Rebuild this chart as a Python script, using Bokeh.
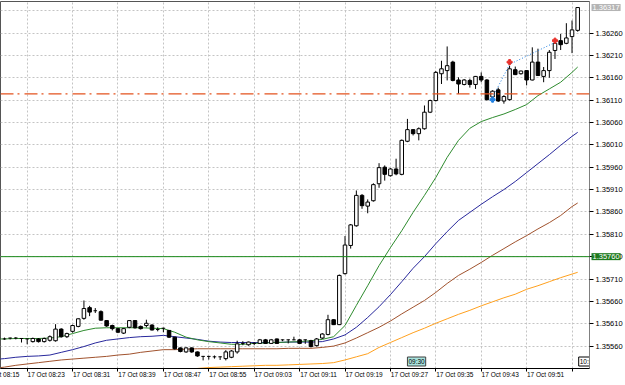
import numpy as np
from bokeh.plotting import figure
from bokeh.models import (ColumnDataSource, Range1d, FixedTicker, PrintfTickFormatter,
                          Span, Label, Grid, LinearAxis)
from bokeh.core.properties import value
from bokeh.embed import file_html
from bokeh.resources import INLINE

# ---------------- data ----------------
# bar position = minutes after 17 Oct 08:15 (M1 chart)
bar_minutes = list(range(3, 106))

opens = [1.35577, 1.35577, 1.35577, 1.35578, 1.35577, 1.35576, 1.35570, 1.35576, 1.35570, 1.35573,
         1.35572, 1.35598, 1.35581, 1.35593, 1.35604, 1.35622, 1.35646, 1.35640, 1.35637, 1.35617,
         1.35606, 1.35599, 1.35589, 1.35602, 1.35617, 1.35604, 1.35606, 1.35607, 1.35597, 1.35600,
         1.35595, 1.35580, 1.35556, 1.35547, 1.35556, 1.35547, 1.35537, 1.35537, 1.35536, 1.35536,
         1.35532, 1.35535, 1.35547, 1.35566, 1.35563, 1.35566, 1.35566, 1.35574, 1.35566, 1.35576,
         1.35574, 1.35574, 1.35574, 1.35574, 1.35574, 1.35572, 1.35561, 1.35578, 1.35586, 1.35619,
         1.35608, 1.35722, 1.35785, 1.35829, 1.35897, 1.35873, 1.35885, 1.35923, 1.35960, 1.35941,
         1.35956, 1.35944, 1.36018, 1.36044, 1.36035, 1.36046, 1.36083, 1.36109, 1.36169, 1.36176,
         1.36195, 1.36155, 1.36145, 1.36154, 1.36145, 1.36163, 1.36155, 1.36117, 1.36133, 1.36108,
         1.36111, 1.36178, 1.36169, 1.36176, 1.36155, 1.36195, 1.36163, 1.36176, 1.36221, 1.36243,
         1.36237, 1.36252, 1.36266]
highs = [1.35579, 1.35579, 1.35579, 1.35580, 1.35578, 1.35577, 1.35579, 1.35578, 1.35579, 1.35584,
         1.35609, 1.35600, 1.35590, 1.35608, 1.35622, 1.35662, 1.35650, 1.35645, 1.35640, 1.35618,
         1.35608, 1.35600, 1.35600, 1.35618, 1.35618, 1.35606, 1.35619, 1.35609, 1.35602, 1.35601,
         1.35596, 1.35581, 1.35557, 1.35557, 1.35557, 1.35548, 1.35538, 1.35538, 1.35539, 1.35537,
         1.35551, 1.35551, 1.35572, 1.35571, 1.35570, 1.35569, 1.35576, 1.35576, 1.35576, 1.35577,
         1.35575, 1.35575, 1.35581, 1.35576, 1.35575, 1.35574, 1.35578, 1.35589, 1.35630, 1.35620,
         1.35720, 1.35806, 1.35833, 1.35908, 1.35900, 1.35888, 1.35924, 1.35969, 1.35964, 1.35958,
         1.35979, 1.36022, 1.36068, 1.36045, 1.36049, 1.36098, 1.36111, 1.36175, 1.36198, 1.36230,
         1.36198, 1.36161, 1.36157, 1.36158, 1.36164, 1.36172, 1.36157, 1.36132, 1.36138, 1.36121,
         1.36187, 1.36185, 1.36176, 1.36177, 1.36228, 1.36225, 1.36184, 1.36222, 1.36240, 1.36258,
         1.36282, 1.36288, 1.36317]
lows = [1.35575, 1.35574, 1.35575, 1.35575, 1.35568, 1.35564, 1.35568, 1.35568, 1.35568, 1.35570,
        1.35570, 1.35579, 1.35578, 1.35590, 1.35602, 1.35619, 1.35627, 1.35634, 1.35617, 1.35603,
        1.35595, 1.35589, 1.35587, 1.35600, 1.35599, 1.35597, 1.35602, 1.35595, 1.35593, 1.35591,
        1.35578, 1.35552, 1.35546, 1.35545, 1.35545, 1.35536, 1.35528, 1.35530, 1.35532, 1.35529,
        1.35528, 1.35533, 1.35543, 1.35562, 1.35561, 1.35562, 1.35565, 1.35565, 1.35565, 1.35565,
        1.35571, 1.35566, 1.35573, 1.35565, 1.35565, 1.35557, 1.35559, 1.35576, 1.35584, 1.35607,
        1.35607, 1.35720, 1.35778, 1.35827, 1.35867, 1.35857, 1.35883, 1.35914, 1.35930, 1.35939,
        1.35942, 1.35942, 1.36016, 1.36031, 1.36020, 1.36044, 1.36081, 1.36107, 1.36146, 1.36154,
        1.36152, 1.36124, 1.36143, 1.36138, 1.36135, 1.36150, 1.36109, 1.36115, 1.36106, 1.36102,
        1.36109, 1.36166, 1.36167, 1.36143, 1.36154, 1.36164, 1.36150, 1.36160, 1.36202, 1.36222,
        1.36235, 1.36215, 1.36263]
closes = [1.35578, 1.35576, 1.35578, 1.35578, 1.35577, 1.35576, 1.35577, 1.35570, 1.35577, 1.35581,
          1.35598, 1.35581, 1.35588, 1.35606, 1.35621, 1.35644, 1.35636, 1.35639, 1.35618, 1.35605,
          1.35599, 1.35591, 1.35599, 1.35617, 1.35601, 1.35599, 1.35611, 1.35596, 1.35597, 1.35600,
          1.35580, 1.35554, 1.35548, 1.35556, 1.35547, 1.35538, 1.35537, 1.35537, 1.35536, 1.35536,
          1.35547, 1.35549, 1.35565, 1.35566, 1.35569, 1.35566, 1.35574, 1.35566, 1.35574, 1.35566,
          1.35574, 1.35574, 1.35574, 1.35566, 1.35574, 1.35559, 1.35576, 1.35587, 1.35619, 1.35608,
          1.35718, 1.35786, 1.35831, 1.35897, 1.35874, 1.35882, 1.35921, 1.35959, 1.35944, 1.35956,
          1.35945, 1.36020, 1.36044, 1.36035, 1.36046, 1.36083, 1.36109, 1.36172, 1.36180, 1.36187,
          1.36154, 1.36146, 1.36155, 1.36145, 1.36163, 1.36155, 1.36111, 1.36130, 1.36108, 1.36118,
          1.36180, 1.36167, 1.36175, 1.36155, 1.36195, 1.36165, 1.36176, 1.36217, 1.36237, 1.36234,
          1.36249, 1.36267, 1.36317]

ma_bars = list(range(2, 105, 2)) + [105]
ma_green = [1.35576, 1.35576, 1.35577, 1.35577, 1.35577, 1.35578, 1.35581, 1.35588, 1.35595, 1.35600,
            1.35601, 1.35601, 1.35601, 1.35601, 1.35600, 1.35599, 1.35591, 1.35580, 1.35574, 1.35570,
            1.35567, 1.35564, 1.35564, 1.35566, 1.35567, 1.35568, 1.35569, 1.35570, 1.35572, 1.35575,
            1.35581, 1.35606, 1.35651, 1.35695, 1.35740, 1.35780, 1.35818, 1.35859, 1.35897, 1.35937,
            1.35982, 1.36020, 1.36047, 1.36062, 1.36071, 1.36079, 1.36089, 1.36100, 1.36120, 1.36135,
            1.36150, 1.36172, 1.36184]
ma_blue = [1.35530, 1.35532, 1.35535, 1.35537, 1.35538, 1.35540, 1.35546, 1.35552, 1.35559, 1.35567,
           1.35573, 1.35576, 1.35579, 1.35581, 1.35582, 1.35584, 1.35581, 1.35578, 1.35575, 1.35571,
           1.35569, 1.35568, 1.35568, 1.35568, 1.35568, 1.35568, 1.35569, 1.35569, 1.35569, 1.35570,
           1.35576, 1.35585, 1.35602, 1.35624, 1.35648, 1.35675, 1.35704, 1.35734, 1.35760, 1.35789,
           1.35816, 1.35841, 1.35859, 1.35877, 1.35894, 1.35910, 1.35928, 1.35948, 1.35968, 1.35988,
           1.36009, 1.36029, 1.36038]
ma_brown = [1.35510, 1.35513, 1.35517, 1.35520, 1.35523, 1.35526, 1.35529, 1.35531, 1.35533, 1.35535,
            1.35537, 1.35540, 1.35542, 1.35546, 1.35549, 1.35552, 1.35552, 1.35553, 1.35554, 1.35554,
            1.35554, 1.35554, 1.35554, 1.35554, 1.35554, 1.35554, 1.35555, 1.35555, 1.35555, 1.35557,
            1.35560, 1.35567, 1.35578, 1.35590, 1.35602, 1.35616, 1.35632, 1.35647, 1.35662, 1.35680,
            1.35700, 1.35718, 1.35732, 1.35747, 1.35763, 1.35778, 1.35793, 1.35807, 1.35822, 1.35836,
            1.35852, 1.35872, 1.35880]
ma_orange_bars = list(range(36, 105, 2)) + [105]
ma_orange = [1.35509, 1.35510, 1.35512, 1.35513, 1.35514, 1.35515, 1.35516, 1.35517, 1.35517, 1.35518,
             1.35519, 1.35520, 1.35521, 1.35523, 1.35529, 1.35536, 1.35543, 1.35557, 1.35568, 1.35579,
             1.35590, 1.35600, 1.35611, 1.35621, 1.35631, 1.35640, 1.35650, 1.35659, 1.35668, 1.35676,
             1.35687, 1.35695, 1.35704, 1.35713, 1.35721, 1.35725]

zigzag_bars = [90, 93, 101]
zigzag_prices = [1.36116, 1.36190, 1.36239]
signal_bars = [90, 93, 101]
signal_prices = [1.36111, 1.36195, 1.36243]
signal_colors = ["#1f7fe0", "#e8302a", "#e8302a"]

level_price = 1.35760
dashdot_price = 1.36124
last_price = 1.36317

price_ticks = [1.35560, 1.35610, 1.35660, 1.35710, 1.35760, 1.35810, 1.35860, 1.35910,
               1.35960, 1.36010, 1.36060, 1.36110, 1.36160, 1.36210, 1.36260]
grid_prices = price_ticks + [1.36310]
time_tick_bars = [0, 8, 16, 24, 32, 40, 48, 56, 64, 72, 80, 88, 96, 104]
time_tick_labels = ["17 Oct 08:15", "17 Oct 08:23", "17 Oct 08:31", "17 Oct 08:39", "17 Oct 08:47",
                    "17 Oct 08:55", "17 Oct 09:03", "17 Oct 09:11", "17 Oct 09:19", "17 Oct 09:27",
                    "17 Oct 09:35", "17 Oct 09:43", "17 Oct 09:51", "17 Oct 09:59"]
session_bar, session_text = 75, "09:30"
end_bar, end_text = 105, "10:00"

# ---------------- figure ----------------
FONT = "Liberation Sans"
X0, X1 = 3.3, 107.08            # visible bar window
BAR_PX = 589.0 / (X1 - X0)       # pixels per bar
LABEL_SHIFT = 19.0 / BAR_PX      # centre of a left-aligned time label, in bars
HIDDEN_LEFT = 70                 # side strip holding the price-box labels, scrolled out of view

p = figure(width=625 + HIDDEN_LEFT, height=385, output_backend="svg", toolbar_location=None,
           x_range=Range1d(X0, X1), y_range=Range1d(1.355099, 1.363305),
           y_axis_location="right", min_border_left=HIDDEN_LEFT, min_border_top=1,
           min_border_right=36, min_border_bottom=17,
           background_fill_color="white", border_fill_color="white",
           outline_line_color="#555555",
           styles={"margin-left": f"-{HIDDEN_LEFT}px"})
p.extra_x_ranges = {"tlabels": Range1d(X0 - LABEL_SHIFT, X1 - LABEL_SHIFT)}

p.xgrid.visible = False
p.ygrid.visible = False
vgrid = Grid(dimension=0, ticker=FixedTicker(ticks=time_tick_bars), grid_line_color="#c4c4c4",
             grid_line_dash="2 2", grid_line_width=1)
hgrid = Grid(dimension=1, ticker=FixedTicker(ticks=grid_prices), grid_line_color="#c4c4c4",
             grid_line_dash="2 2", grid_line_width=1)
p.add_layout(vgrid)
p.add_layout(hgrid)

yax = p.yaxis[0]
yax.ticker = FixedTicker(ticks=price_ticks)
yax.formatter = PrintfTickFormatter(format="%.5f")
yax.major_tick_out = 4
yax.major_tick_in = 0
yax.minor_tick_line_color = None
yax.major_label_standoff = 2
yax.major_label_text_font = FONT
yax.major_label_text_font_size = "7.5px"
yax.major_label_text_color = "#000000"
yax.axis_line_color = "#808080"
yax.major_tick_line_color = "#000000"

# bottom axis 1: tick marks only
xax = p.xaxis[0]
xax.ticker = FixedTicker(ticks=time_tick_bars)
xax.major_tick_out = 3
xax.major_tick_in = 0
xax.minor_tick_line_color = None
xax.major_label_text_color = None
xax.major_label_text_font_size = "0px"
xax.major_label_standoff = 0
xax.axis_line_color = "#000000"
xax.major_tick_line_color = "#000000"

# bottom axis 2: the time labels, left-aligned to their ticks (terminal style)
lax = LinearAxis(x_range_name="tlabels", ticker=FixedTicker(ticks=time_tick_bars),
                 major_label_overrides={tb: tl for tb, tl in zip(time_tick_bars, time_tick_labels)},
                 bounds=(-30, 140), axis_line_color=None, major_tick_line_color=None,
                 minor_tick_line_color=None, major_tick_out=0, major_tick_in=0,
                 major_label_standoff=-1, major_label_text_font=FONT,
                 major_label_text_font_size="6.5px", major_label_text_color="#000000")
p.add_layout(lax, "below")

# horizontal levels
p.add_layout(Span(location=level_price, dimension="width", line_color="#1a8a1a", line_width=1))
p.add_layout(Span(location=dashdot_price, dimension="width", line_color="#e4531f",
                  line_width=1.3, line_dash="13 4 2 5"))

# moving averages
p.line(ma_orange_bars, ma_orange, line_color="#ffa01e", line_width=1)
p.line(ma_bars, ma_brown, line_color="#a0522d", line_width=1)
p.line(ma_bars, ma_blue, line_color="#28289c", line_width=1)
p.line(ma_bars, ma_green, line_color="#2e8b2e", line_width=1)

# candles
o = np.array(opens); c = np.array(closes)
body_top = np.maximum(o, c); body_bot = np.minimum(o, c)
is_doji = np.isclose(o, c, atol=1e-7)
fill = np.where(c >= o, "#ffffff", "#000000")
x = np.array(bar_minutes)
src = ColumnDataSource(dict(x=x, h=highs, l=lows))
p.segment(x0="x", y0="l", x1="x", y1="h", source=src, line_color="#000000", line_width=1)
nb = ~is_doji
p.vbar(x=x[nb], width=0.62, top=body_top[nb], bottom=body_bot[nb], fill_color=list(fill[nb]),
       line_color="#000000", line_width=1)
p.segment(x0=x[is_doji] - 0.31, y0=c[is_doji], x1=x[is_doji] + 0.31, y1=c[is_doji],
          line_color="#000000", line_width=1)

# zigzag + signal arrows
p.line(zigzag_bars, zigzag_prices, line_color="#1f7fe0", line_width=1, line_dash="1 2")
p.scatter(signal_bars, signal_prices, marker="plus", size=5, fill_color=signal_colors,
          line_color=signal_colors)

# price boxes on the price scale (side-panel labels are not clipped to the frame)
p.add_layout(Label(x=X1, y=level_price, x_offset=2, text=f"{level_price:.5f}",
                   text_baseline="middle", text_align="left", text_font=FONT,
                   text_font_size="7.5px", text_color="#ffffff",
                   background_fill_color="#1e7a1e", padding=1), "left")
p.add_layout(Label(x=X1, y=last_price, x_offset=2, text=f"{last_price:.5f}",
                   text_baseline="middle", text_align="left", text_font=FONT,
                   text_font_size="7.5px", text_color="#ffffff",
                   background_fill_color="#b4b4b4", padding=1), "left")

# time markers at bottom of chart
p.add_layout(Label(x=session_bar, y=p.y_range.start, y_offset=7, text=session_text,
                   text_baseline="middle", text_align="left", text_font=FONT,
                   text_font_size="6.5px", text_color="#000000",
                   background_fill_color="#a8e2dc", border_line_color="#404040", padding=1))
p.text(x=[end_bar], y=[p.y_range.start], text=[end_text], x_offset=1, y_offset=-7,
       text_baseline="middle", text_align="left", text_font=value(FONT), text_font_size="6.5px",
       text_color="#000000", background_fill_color="#ffffff", border_line_color="#000000",
       padding=1)

open("out.html", "w").write(file_html(p, INLINE))
